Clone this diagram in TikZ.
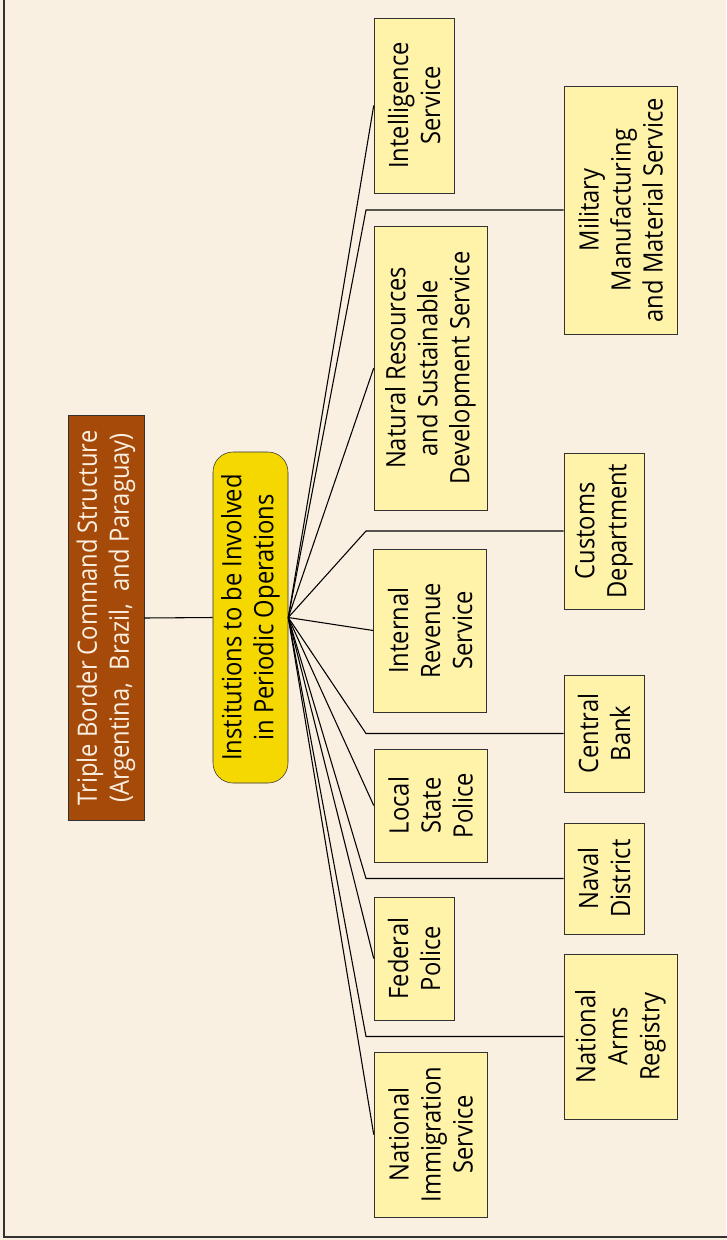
\documentclass[tikz,border=0pt]{standalone}
\usepackage{fontspec}
\setmainfont[FakeStretch=0.89]{Open Sans}
\usepackage{tikz}
\usetikzlibrary{positioning,calc}

\definecolor{paper}{RGB}{250,240,225}
\definecolor{rust}{RGB}{166,74,10}
\definecolor{gold}{RGB}{245,216,0}
\definecolor{straw}{RGB}{255,243,170}
\definecolor{edge}{RGB}{50,50,50}

\begin{document}
\begin{tikzpicture}[x=0.75pt, y=-0.75pt,
    every node/.style={rotate=90, align=center, inner sep=0pt, font=\fontsize{20}{24}\selectfont},
    cmdbox/.style={draw=edge, fill=rust, text=paper, minimum width=303.75pt, minimum height=57pt},
    hubbox/.style={draw=edge, fill=gold, rounded corners=15pt, minimum width=248.25pt, minimum height=56.25pt},
    unit/.style={draw=edge, fill=straw},
    slim/.style={unit, minimum height=60pt},
    wide/.style={unit, minimum height=84.75pt},
    link/.style={draw=black, line width=0.8pt}]
    % page and frame
    \fill[paper] (0,0) rectangle (726,1240);
    \useasboundingbox (0,0) rectangle (726,1240);
    \draw[edge, line width=1.3pt] (4,-2) -- (4,1237) -- (728,1237);

    % top of the chart
    \node (cmd) [cmdbox] at (106,618) {Triple Border Command Structure\\(Argentina, \ Brazil, \ and Paraguay)};
    \node (hub) [hubbox] at (250.5,617.5) {Institutions to be Involved\\in Periodic Operations};
    \draw[link] (cmd.south) -- (hub.north);

    % first column
    \node (intel) [slim, minimum width=131.25pt] at (414,105.5) {Intelligence\\Service};
    \node (natres) [wide, minimum width=213pt] at (430.5,368) {Natural Resources\\and Sustainable\\Development Service};
    \node (revenue) [wide, minimum width=122.25pt] at (430,630.5) {Internal\\Revenue\\Service};
    \node (local) [wide, minimum width=84.75pt] at (430.5,805.5) {Local\\State\\Police};
    \node (federal) [slim, minimum width=92.25pt] at (414,958.5) {Federal\\Police};
    \node (immig) [wide, minimum width=123.75pt] at (430.5,1134.5) {National\\Immigration\\Service};

    % second column
    \node (military) [wide, minimum width=186pt] at (620.5,210) {Military\\Manufacturing\\and Material Service};
    \node (customs) [slim, minimum width=117pt] at (604,531) {Customs\\Department};
    \node (bank) [slim, minimum width=87.75pt] at (604,733.5) {Central\\Bank};
    \node (naval) [slim, minimum width=83.25pt] at (604,878.5) {Naval\\District};
    \node (arms) [wide, minimum width=123.75pt] at (620.5,1036.5) {National\\Arms\\Registry};

    % fan of connectors
    \coordinate (bend) at (366,0);
    \foreach \n in {intel,natres,revenue,local,federal,immig}
        \draw[link] (hub.south) -- (\n.north);
    \foreach \n in {military,customs,bank,naval,arms}
        \draw[link] (hub.south) -- (bend |- \n.north) -- (\n.north);
\end{tikzpicture}
\end{document}
